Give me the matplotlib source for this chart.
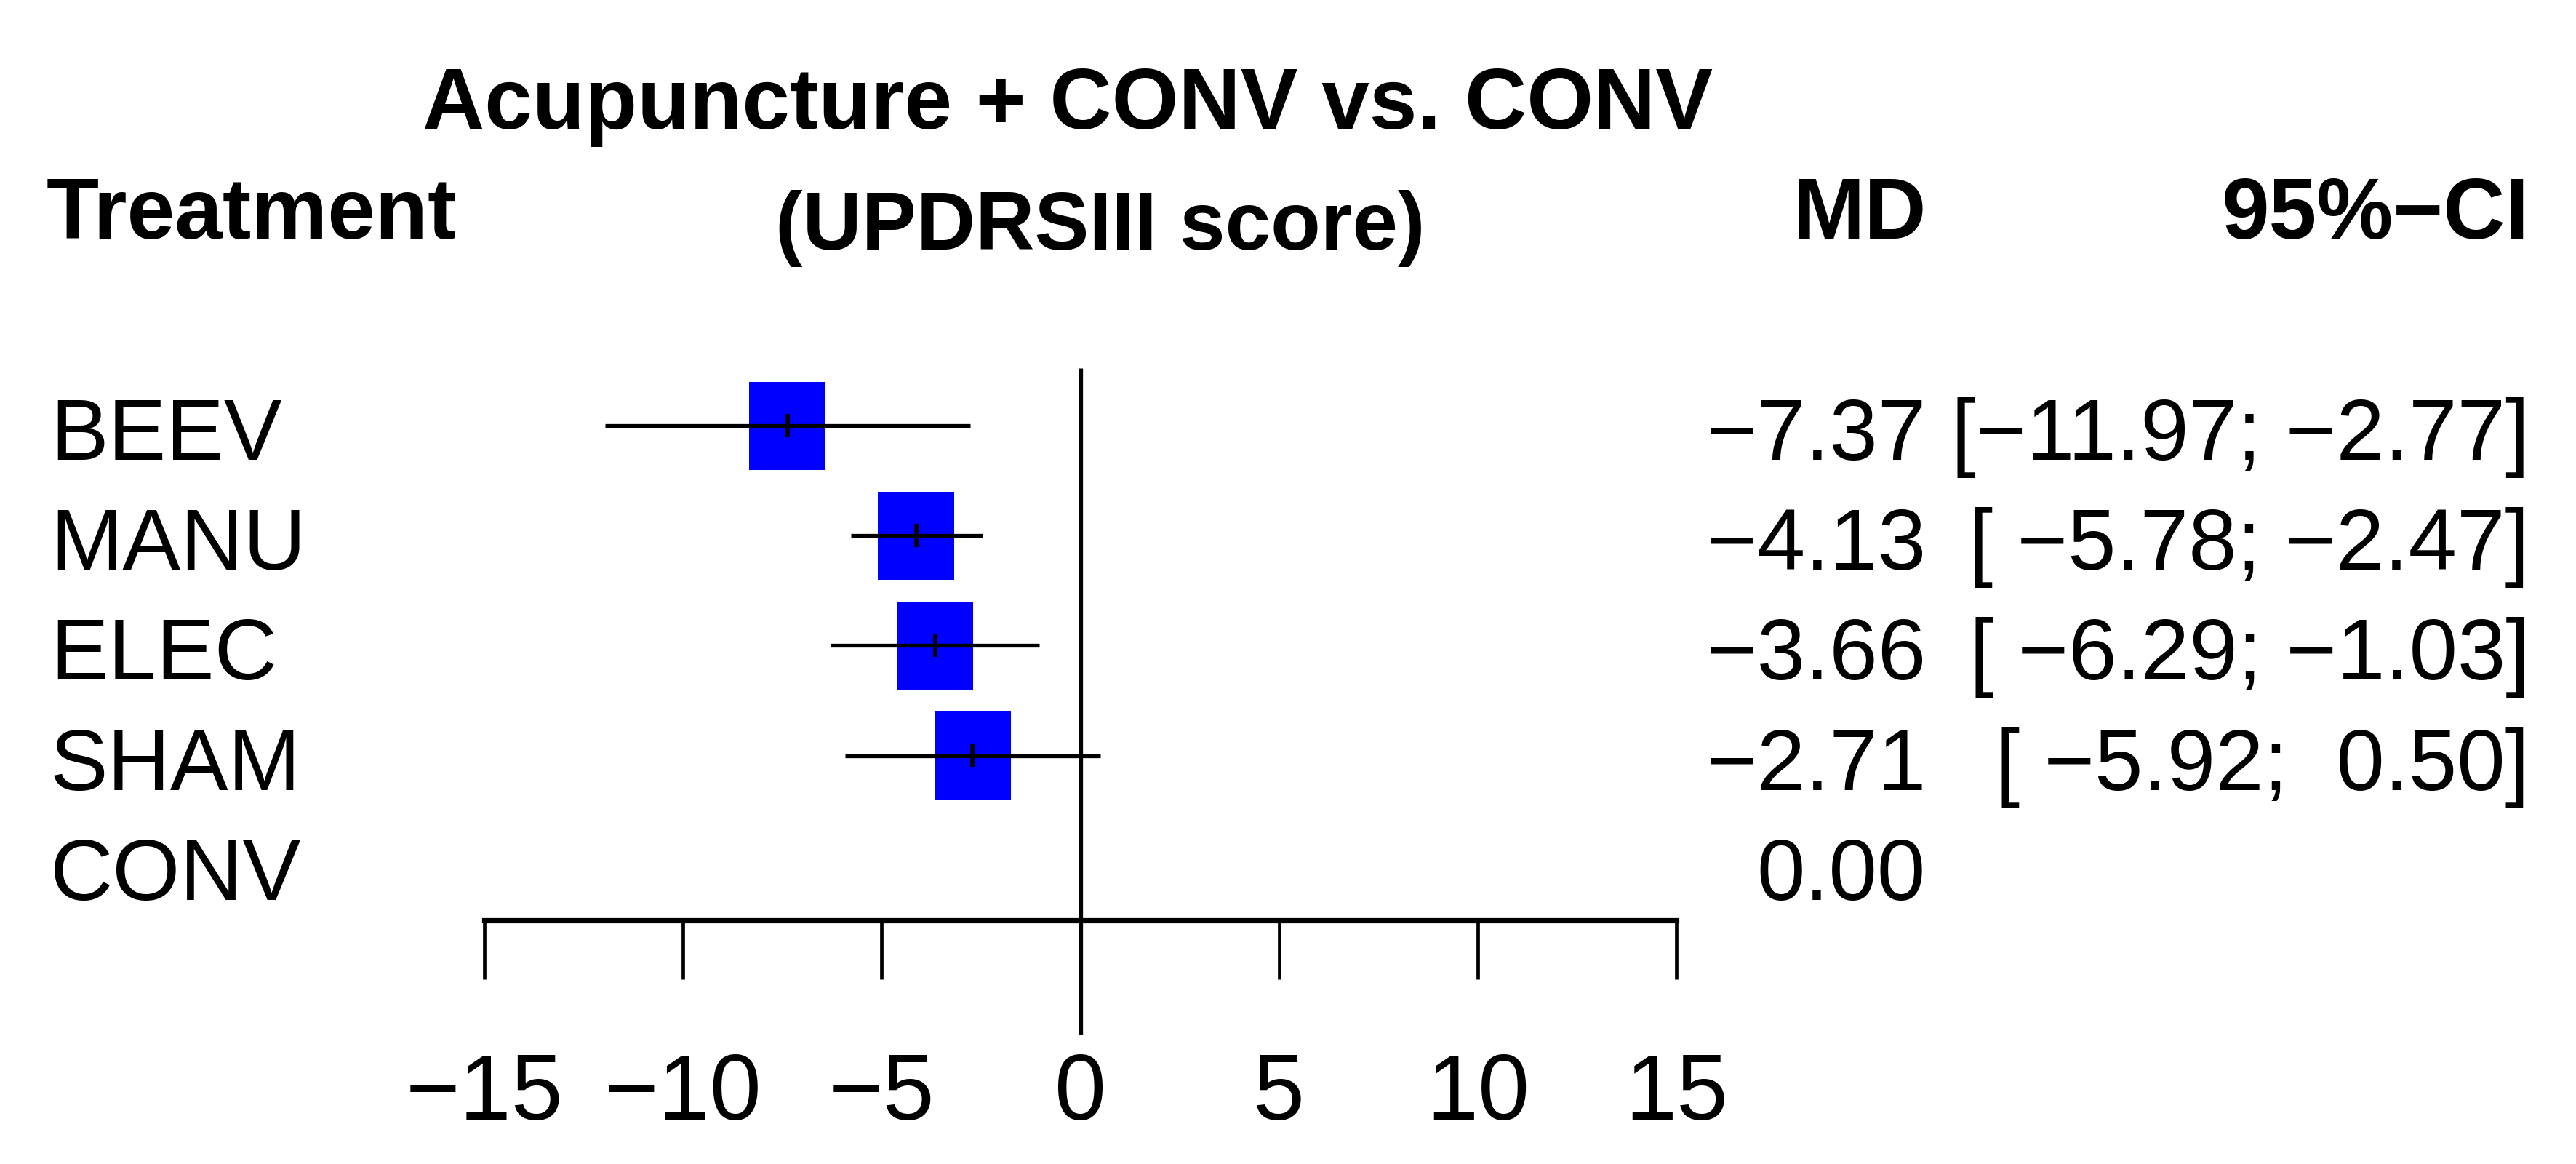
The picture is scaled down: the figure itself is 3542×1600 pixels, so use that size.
import matplotlib
matplotlib.use('Agg')
import matplotlib.pyplot as plt
import matplotlib.transforms as mtransforms
from matplotlib.patches import Rectangle
import numpy as np

# ---------------- data ----------------
treatments = ['BEEV', 'MANU', 'ELEC', 'SHAM', 'CONV']
md = [-7.37, -4.13, -3.66, -2.71, 0.00]
ci_lower = [-11.97, -5.78, -6.29, -5.92, np.nan]
ci_upper = [-2.77, -2.47, -1.03, 0.50, np.nan]
xticks = [-15, -10, -5, 0, 5, 10, 15]
title = 'Acupuncture + CONV vs. CONV'
subtitle = '(UPDRSIII score)'
col_headers = ['Treatment', 'MD', '95%\u2212CI']

# ---------------- layout ----------------
W, H = 3542, 1600
DPI = 100
plt.rcParams['font.family'] = ['Liberation Sans', 'DejaVu Sans']
plt.rcParams['axes.unicode_minus'] = True

fig = plt.figure(figsize=(W / DPI, H / DPI), dpi=DPI)
fig.patch.set_facecolor('white')

ax_left, ax_right = 666, 2305
ax_top, ax_bot = 450, 1265
row0, rstep = 585, 151.2
ax = fig.add_axes([ax_left / W, 1 - ax_bot / H, (ax_right - ax_left) / W, (ax_bot - ax_top) / H])
ax.set_xlim(-15, 15)
ax.set_ylim((ax_bot - row0) / rstep, (ax_top - row0) / rstep)
ax.patch.set_alpha(0)

FS_LAB = 86
FS_VAL = 86
FS_TICK = 92
FS_HEAD = 85
BLUE = '#0000FF'

# zero reference line
ax.plot([0, 0], [(506 - row0) / rstep, (1422 - row0) / rstep], color='black',
        lw=3.8, clip_on=False, zorder=1, solid_capstyle='butt')

sq_w = 105 / ((ax_right - ax_left) / 30.0)
sq_h = 121 / rstep
for i, (m, lo, up) in enumerate(zip(md, ci_lower, ci_upper)):
    if np.isnan(lo):
        continue
    ax.add_patch(Rectangle((m - sq_w / 2, i - sq_h / 2), sq_w, sq_h,
                           facecolor=BLUE, edgecolor='none', zorder=2))
    ax.hlines(i, lo, up, color='black', lw=3.8, zorder=3)
    ax.vlines(m, i - 0.105, i + 0.105, color='black', lw=4.0, zorder=3)

# axis styling
for s in ['top', 'left', 'right']:
    ax.spines[s].set_visible(False)
ax.spines['bottom'].set_bounds(-15, 15)
ax.spines['bottom'].set_linewidth(5.2)
ax.set_yticks([])
ax.set_xticks(xticks)
ax.set_xticklabels([str(t).replace('-', '\u2212') for t in xticks])
ax.tick_params(axis='x', direction='out', length=58, width=3.4, pad=72, labelsize=FS_TICK)

# row texts
bt = mtransforms.blended_transform_factory(fig.transFigure, ax.transData)
base_off = 47 / rstep


def fmt(v):
    return f'{v:.2f}'.replace('-', '\u2212')


lo_s = [fmt(v) for v in ci_lower if not np.isnan(v)]
up_s = [fmt(v) for v in ci_upper if not np.isnan(v)]
lw_ = max(len(s) for s in lo_s)
uw_ = max(len(s) for s in up_s)

for i, name in enumerate(treatments):
    y = i + base_off
    ax.text(69 / W, y, name, transform=bt, ha='left', va='baseline', fontsize=FS_LAB, clip_on=False)
    ax.text(2648 / W, y, fmt(md[i]), transform=bt, ha='right', va='baseline', fontsize=FS_VAL, clip_on=False)
    if not np.isnan(ci_lower[i]):
        s = '[' + fmt(ci_lower[i]).rjust(lw_) + '; ' + fmt(ci_upper[i]).rjust(uw_) + ']'
        ax.text(3478 / W, y, s, transform=bt, ha='right', va='baseline', fontsize=FS_VAL, clip_on=False)

# headers
fig.text(1468 / W, 1 - 177 / H, title, ha='center', va='baseline', fontsize=85, fontweight='bold')
fig.text(64 / W, 1 - 328 / H, col_headers[0], ha='left', va='baseline', fontsize=FS_HEAD, fontweight='bold')
fig.text(2649 / W, 1 - 328 / H, col_headers[1], ha='right', va='baseline', fontsize=FS_HEAD, fontweight='bold')
fig.text(3478 / W, 1 - 328 / H, col_headers[2], ha='right', va='baseline', fontsize=FS_HEAD, fontweight='bold')
fig.text(1513 / W, 1 - 343 / H, subtitle, ha='center', va='baseline', fontsize=81, fontweight='bold')

fig.savefig('out.png', dpi=DPI, facecolor='white')
